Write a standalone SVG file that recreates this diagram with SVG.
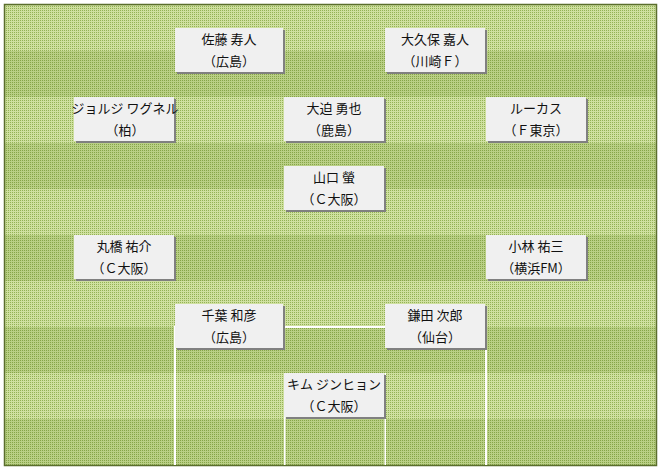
<svg xmlns="http://www.w3.org/2000/svg" width="661" height="471" viewBox="0 0 661 471">
<defs>
<pattern id="pl" x="0" y="0" width="2" height="2" patternUnits="userSpaceOnUse">
<rect width="2" height="2" fill="#cfe0a0"/>
<rect width="1" height="1" fill="#93b255"/>
</pattern>
<pattern id="pd" x="0" y="0" width="2" height="2" patternUnits="userSpaceOnUse">
<rect width="2" height="2" fill="#b9cf85"/>
<rect width="1" height="1" fill="#86a548"/>
</pattern>
</defs>
<style>
.sh{fill:#808080}
.bx{fill:#f0f0f0}
.t{font-family:"Noto Sans CJK JP","Noto Sans",sans-serif;font-size:13px;fill:#111;text-anchor:middle}
.ln{fill:#ffffff}
</style>
<rect width="661" height="471" fill="#ffffff"/>
<g id="field">
<rect x="4" y="4" width="653" height="462" fill="url(#pl)"/>
<rect x="4" y="51" width="653" height="46" fill="url(#pd)"/>
<rect x="4" y="143" width="653" height="46" fill="url(#pd)"/>
<rect x="4" y="235" width="653" height="46" fill="url(#pd)"/>
<rect x="4" y="327" width="653" height="46" fill="url(#pd)"/>
<rect x="4" y="419" width="653" height="47" fill="url(#pd)"/>
<rect x="4.5" y="4.5" width="652" height="461" fill="none" stroke="#5a6e2c" stroke-width="1.5"/>
</g>
<g id="lines">
<rect class="ln" x="174" y="326" width="313" height="2"/>
<rect class="ln" x="174" y="326" width="2" height="139"/>
<rect class="ln" x="485" y="326" width="2" height="139"/>
<rect class="ln" x="284" y="373" width="1.5" height="92"/>
<rect class="ln" x="384.5" y="373" width="1.5" height="92"/>
</g>
<g id="sato"><rect class="sh" x="177" y="30" width="108" height="44"/><rect class="bx" x="175" y="28" width="108" height="44"/><text class="t" x="229" y="44">佐藤 寿人</text><text class="t" x="229" y="66">（広島）</text></g>
<g id="okubo"><rect class="sh" x="387" y="30" width="100" height="44"/><rect class="bx" x="385" y="28" width="100" height="44"/><text class="t" x="435" y="44">大久保 嘉人</text><text class="t" x="435" y="66">（川崎Ｆ）</text></g>
<g id="wagner"><rect class="sh" x="76" y="99" width="100" height="44"/><rect class="bx" x="74" y="97" width="100" height="44"/><text class="t" x="125" y="113">ジョルジ ワグネル</text><text class="t" x="125" y="135">（柏）</text></g>
<g id="osako"><rect class="sh" x="286" y="99" width="100" height="44"/><rect class="bx" x="284" y="97" width="100" height="44"/><text class="t" x="334" y="113">大迫 勇也</text><text class="t" x="334" y="135">（鹿島）</text></g>
<g id="lucas"><rect class="sh" x="488" y="99" width="100" height="44"/><rect class="bx" x="486" y="97" width="100" height="44"/><text class="t" x="536" y="113">ルーカス</text><text class="t" x="536" y="135">（Ｆ東京）</text></g>
<g id="yamaguchi"><rect class="sh" x="286" y="168" width="100" height="44"/><rect class="bx" x="284" y="166" width="100" height="44"/><text class="t" x="334" y="182">山口 螢</text><text class="t" x="334" y="204">（Ｃ大阪）</text></g>
<g id="maruhashi"><rect class="sh" x="76" y="237" width="100" height="44"/><rect class="bx" x="74" y="235" width="100" height="44"/><text class="t" x="124" y="251">丸橋 祐介</text><text class="t" x="124" y="273">（Ｃ大阪）</text></g>
<g id="kobayashi"><rect class="sh" x="488" y="237" width="100" height="44"/><rect class="bx" x="486" y="235" width="100" height="44"/><text class="t" x="536" y="251">小林 祐三</text><text class="t" x="536" y="273">（横浜FM）</text></g>
<g id="chiba"><rect class="sh" x="177" y="306" width="108" height="44"/><rect class="bx" x="175" y="304" width="108" height="44"/><text class="t" x="229" y="320">千葉 和彦</text><text class="t" x="229" y="342">（広島）</text></g>
<g id="kamada"><rect class="sh" x="387" y="306" width="100" height="44"/><rect class="bx" x="385" y="304" width="100" height="44"/><text class="t" x="435" y="320">鎌田 次郎</text><text class="t" x="435" y="342">（仙台）</text></g>
<g id="kim"><rect class="sh" x="286" y="375" width="100" height="44"/><rect class="bx" x="284" y="373" width="100" height="44"/><text class="t" x="334" y="389">キム ジンヒョン</text><text class="t" x="334" y="411">（Ｃ大阪）</text></g>
</svg>
